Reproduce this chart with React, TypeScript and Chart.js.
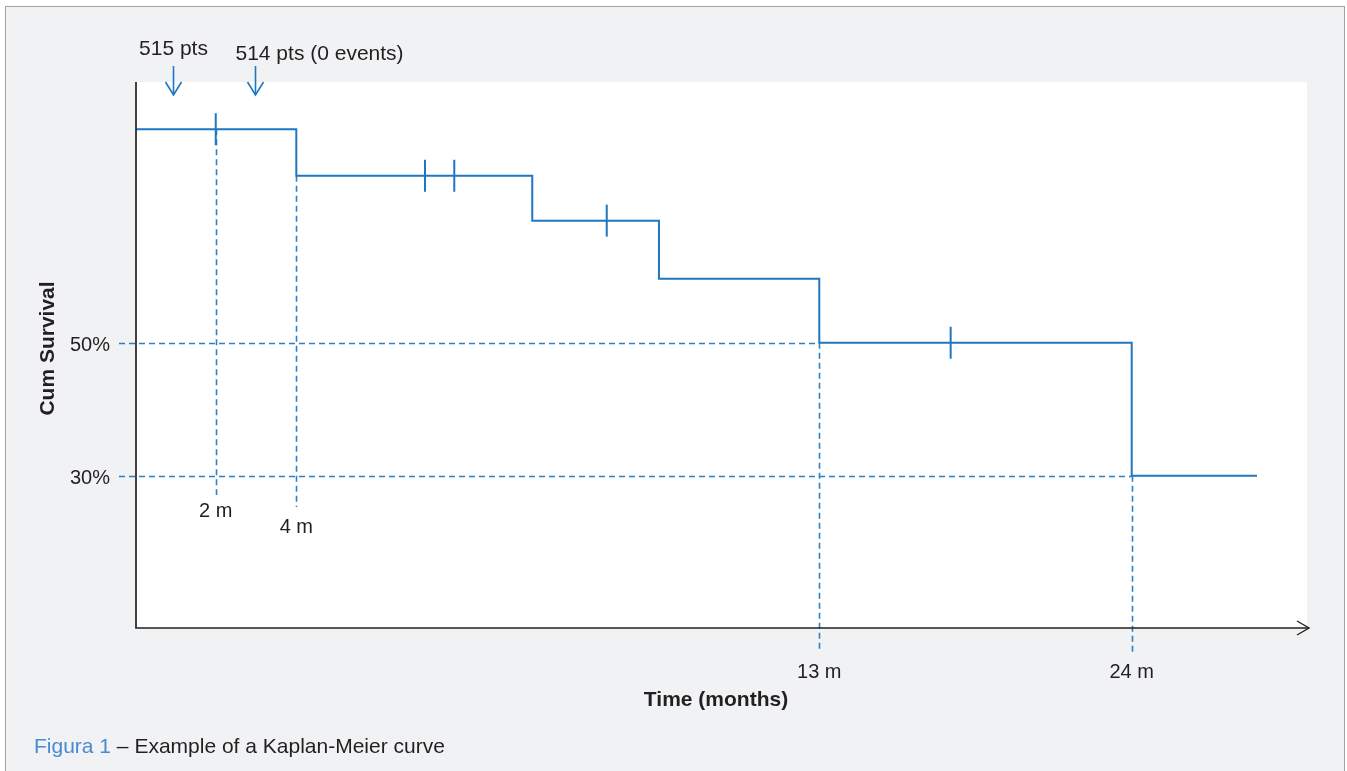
import React, { useEffect, useRef } from 'react';
import { Chart, registerables } from 'chart.js';

Chart.register(...registerables);

// Kaplan-Meier steps (schematic time axis units 0..100)
const stepTimes = [0, 13.69, 33.84, 44.66, 58.35, 85.03, 95.73];
const stepSurvival = [82.1, 75.1, 68.35, 59.6, 50, 30, 30];
// censored observations
const censorTimes = [6.81, 24.68, 27.18, 40.2, 69.57];
const censorSurvival = [82.1, 75.1, 75.1, 68.35, 50];
// x-axis reference ticks
const xTickTimes = [6.81, 13.69, 58.35, 85.03];
const xTickSurvival = [82.1, 75.1, 50, 30];
const xTickLabels = ['2 m', '4 m', '13 m', '24 m'];
// y-axis reference ticks
const yTickValues = [50, 30];
const yTickEndTimes = [58.35, 85.03];
const yTickLabels = ['50%', '30%'];
// annotations above the plot
const annotationTimes = [3.16, 10.16];
const annotationLabels = ['515 pts', '514 pts (0 events)'];

const X_MIN = 0;
const X_MAX = 100;
const Y_MIN = 7.1;
const Y_MAX = 89.2;

const BLUE = '#1f77c2';
const DASH_BLUE = '#2b80c8';
const TEXT = '#231f20';
const FONT = "'Liberation Sans', Arial, sans-serif";

const decorPlugin = {
  id: 'kmDecor',
  beforeDraw(chart: any) {
    const { ctx, chartArea } = chart;
    ctx.save();
    ctx.fillStyle = '#ffffff';
    ctx.fillRect(chartArea.left, chartArea.top, chartArea.right - chartArea.left, chartArea.bottom - chartArea.top);
    ctx.restore();
  },
  beforeDatasetsDraw(chart: any) {
    const { ctx, chartArea } = chart;
    const xs = chart.scales.x;
    const ys = chart.scales.y;
    ctx.save();
    ctx.strokeStyle = DASH_BLUE;
    ctx.lineWidth = 1.6;
    ctx.setLineDash([6, 4]);
    // horizontal guides
    yTickValues.forEach((v, i) => {
      const y = Math.round(ys.getPixelForValue(v)) + 0.5;
      ctx.beginPath();
      ctx.moveTo(chartArea.left - 17, y);
      ctx.lineTo(xs.getPixelForValue(yTickEndTimes[i]), y);
      ctx.stroke();
    });
    // vertical guides
    const guideEnds = [495, 507, 652, 652];
    xTickTimes.forEach((t, i) => {
      const x = Math.round(xs.getPixelForValue(t)) + 0.5;
      ctx.beginPath();
      ctx.moveTo(x, ys.getPixelForValue(xTickSurvival[i]));
      ctx.lineTo(x, guideEnds[i]);
      ctx.stroke();
    });
    ctx.restore();
  },
  afterDraw(chart: any) {
    const { ctx, chartArea } = chart;
    const xs = chart.scales.x;
    const ys = chart.scales.y;
    ctx.save();
    // axes
    ctx.strokeStyle = '#222222';
    ctx.lineWidth = 1.7;
    ctx.setLineDash([]);
    ctx.beginPath();
    ctx.moveTo(chartArea.left, chartArea.top);
    ctx.lineTo(chartArea.left, chartArea.bottom);
    ctx.lineTo(chartArea.right + 2, chartArea.bottom);
    ctx.stroke();
    ctx.lineWidth = 1.4;
    ctx.beginPath();
    ctx.moveTo(chartArea.right - 10, chartArea.bottom - 7);
    ctx.lineTo(chartArea.right + 2, chartArea.bottom);
    ctx.lineTo(chartArea.right - 10, chartArea.bottom + 7);
    ctx.stroke();

    // y tick labels
    ctx.fillStyle = TEXT;
    ctx.font = `20px ${FONT}`;
    ctx.textAlign = 'right';
    ctx.textBaseline = 'alphabetic';
    yTickValues.forEach((v, i) => {
      ctx.fillText(yTickLabels[i], chartArea.left - 26, ys.getPixelForValue(v) + 8.5);
    });
    // x tick labels
    const labelBaselines = [517, 533, 678, 678];
    ctx.textAlign = 'center';
    xTickTimes.forEach((t, i) => {
      ctx.fillText(xTickLabels[i], xs.getPixelForValue(t), labelBaselines[i]);
    });

    // axis titles
    ctx.font = `bold 21px ${FONT}`;
    ctx.textAlign = 'center';
    ctx.fillText('Time (months)', 716, 706);
    ctx.save();
    ctx.translate(53.5, 348.5);
    ctx.rotate(-Math.PI / 2);
    ctx.fillText('Cum Survival', 0, 0);
    ctx.restore();

    // annotations with arrows
    ctx.font = `21px ${FONT}`;
    annotationTimes.forEach((t, i) => {
      const x = Math.round(xs.getPixelForValue(t)) + 0.5;
      if (i === 0) {
        ctx.textAlign = 'center';
        ctx.fillText(annotationLabels[i], x, 55);
      } else {
        ctx.textAlign = 'left';
        ctx.fillText(annotationLabels[i], x - 20, 60);
      }
      ctx.strokeStyle = BLUE;
      ctx.lineWidth = 1.6;
      ctx.beginPath();
      ctx.moveTo(x, 66);
      ctx.lineTo(x, 94);
      ctx.stroke();
      ctx.beginPath();
      ctx.moveTo(x - 8, 82);
      ctx.lineTo(x, 95);
      ctx.lineTo(x + 8, 82);
      ctx.stroke();
    });

    // caption
    ctx.font = `21px ${FONT}`;
    ctx.textAlign = 'left';
    ctx.fillStyle = '#4a8ad2';
    const cap1 = 'Figura 1';
    ctx.fillText(cap1, 34, 753);
    const w = ctx.measureText(cap1).width;
    ctx.fillStyle = TEXT;
    ctx.fillText(' – Example of a Kaplan-Meier curve', 34 + w, 753);
    ctx.restore();
  },
};

export default function App() {
  const canvasRef = useRef<HTMLCanvasElement | null>(null);

  useEffect(() => {
    const canvas = canvasRef.current;
    if (!canvas) return;
    const chart = new Chart(canvas, {
      type: 'line',
      data: {
        datasets: [
          {
            label: 'Survival',
            data: stepTimes.map((t, i) => ({ x: t, y: stepSurvival[i] })),
            stepped: 'before',
            borderColor: BLUE,
            borderWidth: 2,
            borderJoinStyle: 'miter',
            pointRadius: 0,
            fill: false,
          },
          {
            label: 'Censored',
            data: censorTimes.map((t, i) => ({ x: t, y: censorSurvival[i] })),
            showLine: false,
            pointStyle: 'line',
            rotation: 90,
            pointRadius: 16,
            pointBorderWidth: 2,
            borderColor: BLUE,
            pointBorderColor: BLUE,
          },
        ],
      },
      options: {
        responsive: false,
        animation: false,
        devicePixelRatio: 1,
        layout: { padding: { left: 136, right: 40, top: 82, bottom: 143 } },
        plugins: { legend: { display: false }, tooltip: { enabled: false }, title: { display: false } },
        events: [],
        scales: {
          x: { type: 'linear', min: X_MIN, max: X_MAX, display: false },
          y: { type: 'linear', min: Y_MIN, max: Y_MAX, display: false },
        },
      } as any,
      plugins: [decorPlugin],
    });
    return () => chart.destroy();
  }, []);

  return (
    <div style={{ position: 'absolute', left: 0, top: 0, width: 1347, height: 771, background: '#ffffff', overflow: 'hidden' }}>
      <div
        style={{
          position: 'absolute',
          left: 5,
          top: 6,
          width: 1338,
          height: 800,
          background: '#f1f2f4',
          borderTop: '1px solid #a3a3a3',
          borderLeft: '1px solid #a3a3a3',
          borderRight: '1px solid #a3a3a3',
        }}
      />
      <canvas
        ref={canvasRef}
        width={1347}
        height={771}
        style={{ position: 'absolute', left: 0, top: 0, width: 1347, height: 771, display: 'block' }}
      />
    </div>
  );
}
